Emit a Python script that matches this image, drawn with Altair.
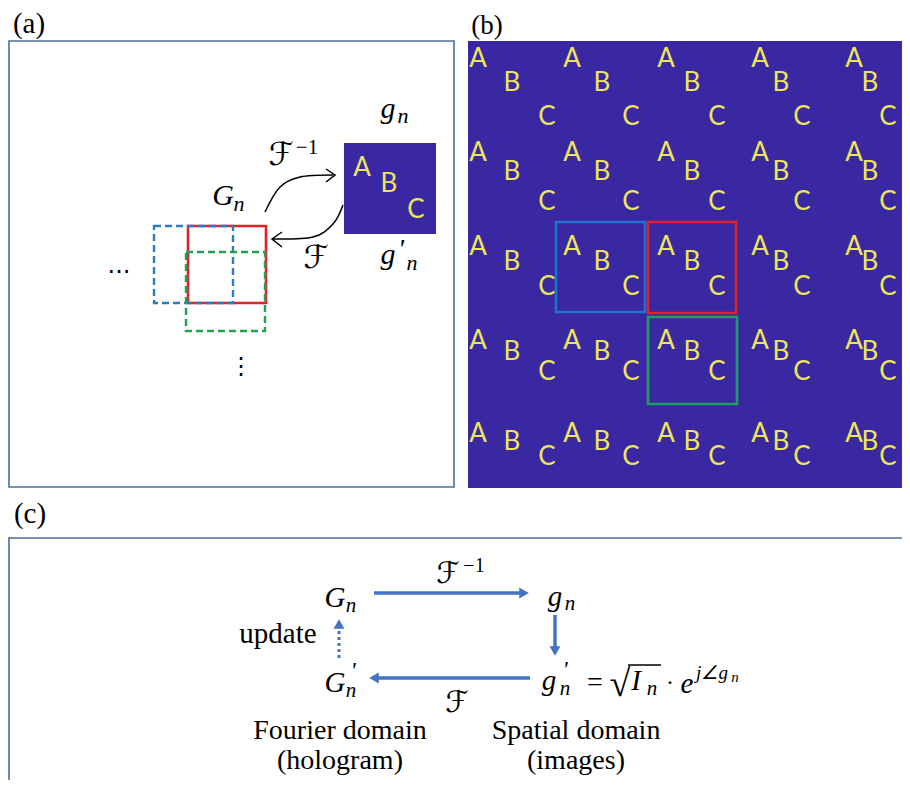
import altair as alt
import pandas as pd

# ---------------- data (diagram positions, in px) ----------------
INDIGO = "#3A27A2"
YELLOW = "#EDE65A"
FRAME = "#4E6E92"
ARROW = "#4472C4"

# panel frames: x0, y0, x1, y1
frame_x0 = [9, 9]
frame_y0 = [41, 538]
frame_x1 = [454, 908]
frame_y1 = [487, 812]

# indigo image areas: panel (a) small image, panel (b) tiled image
img_x0 = [344, 468]
img_y0 = [143, 41]
img_x1 = [436, 912]
img_y1 = [234, 488]

# panel (b) letter grid
grid_A_x = [478, 572, 666, 760, 854]
grid_A_y = [59, 153, 247, 341, 434]
grid_B_dx = [34, 30, 26, 21, 16]
grid_B_dy = [24, 19, 15, 11, 8]
grid_C_dx = [69, 59, 51, 42, 34]
grid_C_dy = [58, 49, 40, 31, 23]

# panel (a) small image letters
small_letters = ["A", "B", "C"]
small_x = [362, 389, 416]
small_y = [168, 184, 210]

# coloured windows: name, x0, y0, x1, y1, colour, dashed
win_name = ["a_blue", "a_green", "a_red", "b_blue", "b_red", "b_green"]
win_x0 = [154, 186, 188, 556, 648, 648]
win_y0 = [226, 252, 226, 222, 222, 317]
win_x1 = [233, 265, 266, 645, 736, 737]
win_y1 = [303, 331, 303, 312, 313, 404]
win_col = ["#2E7BC0", "#22A24F", "#E0242B", "#1F72D0", "#E0202A", "#1E9E63"]
win_dash = [1, 1, 0, 0, 0, 0]

# curved arrows in panel (a)
curve_id = [1, 1, 1, 1, 2, 2, 2, 2]
curve_x = [265, 280, 300, 333, 343, 333, 313, 273]
curve_y = [212, 187, 177, 175, 205, 224, 237, 239]
chev_id = [1, 1, 1, 2, 2, 2]
chev_x = [326, 335, 326, 282, 272, 282]
chev_y = [169, 175, 182, 232, 239, 247]

# straight arrows in panel (c): x0,y0,x1,y1 (line) and head position/shape
arr_x0 = [374, 530, 555]
arr_y0 = [593, 678, 615]
arr_x1 = [521, 378, 555]
arr_y1 = [593, 678, 648]
head_x = [524, 374, 555, 339]
head_y = [593, 678, 651, 624]
head_shape = ["triangle-right", "triangle-left", "triangle-down", "triangle-up"]
dot_x = [339]
dot_y0 = [658]
dot_y1 = [630]

# text items
serif_t = ["(a)", "(b)", "(c)", "update", "Fourier domain", "(hologram)", "Spatial domain", "(images)",
           "=", "·", "√", "−1", "−1"]
serif_x = [29, 487, 30, 278, 340, 340, 576, 576, 595, 670, 620, 307, 474]
serif_y = [24, 26, 514, 634, 731, 761, 731, 761, 683, 683, 685, 148, 566]
serif_s = [29, 27, 29, 29, 28, 28, 28, 28, 28, 24, 38, 21, 20]

math_t = ["g", "n", "G", "n", "g", "n",               # panel (a)
          "G", "n", "G", "n", "g", "n",               # panel (c) left / top
          "g", "n", "I", "n", "e", "j∠g", "n"]        # panel (c) formula
math_x = [388, 403, 223, 239, 388, 412,
          335, 351, 335, 351, 555, 570,
          549, 565, 636, 652, 687, 712, 735]
math_y = [109, 116, 196, 204, 255, 263,
          598, 606, 683, 691, 597, 604,
          681, 689, 681, 689, 684, 673, 677]
math_s = [30, 22, 30, 22, 30, 22,
          29, 21, 29, 21, 29, 21,
          29, 21, 29, 21, 29, 19, 15]

prime_t = ["'", "'", "'"]
prime_x = [401, 353, 565]
prime_y = [250, 671, 670]
prime_s = [28, 24, 24]

script_t = ["ℱ", "ℱ", "ℱ", "ℱ"]
script_x = [281, 316, 448, 457]
script_y = [155, 258, 574, 703]
script_s = [32, 32, 30, 30]

dots_t = ["···", "⋮"]
dots_x = [119, 241]
dots_y = [273, 367]
dots_s = [24, 24]

# ---------------- build ----------------
XS = alt.Scale(domain=[8, 902], nice=False, zero=False)
YS = alt.Scale(domain=[8, 780], reverse=True, nice=False, zero=False)


def X(f="x"):
    return alt.X(f + ":Q", scale=XS, axis=None)


def Y(f="y"):
    return alt.Y(f + ":Q", scale=YS, axis=None)


frames = pd.DataFrame({"x0": frame_x0, "y0": frame_y0, "x1": frame_x1, "y1": frame_y1})
frame_layer = alt.Chart(frames).mark_rect(fillOpacity=0, stroke=FRAME, strokeWidth=1.6).encode(
    x=X("x0"), x2="x1:Q", y=Y("y0"), y2="y1:Q")

imgs = pd.DataFrame({"x0": img_x0, "y0": img_y0, "x1": img_x1, "y1": img_y1})
img_layer = alt.Chart(imgs).mark_rect(color=INDIGO).encode(
    x=X("x0"), x2="x1:Q", y=Y("y0"), y2="y1:Q")

rows = []
for ri, ay in enumerate(grid_A_y):
    for ci, ax in enumerate(grid_A_x):
        rows.append({"x": ax, "y": ay, "t": "A"})
        rows.append({"x": ax + grid_B_dx[ci], "y": ay + grid_B_dy[ri], "t": "B"})
        rows.append({"x": ax + grid_C_dx[ci], "y": ay + grid_C_dy[ri], "t": "C"})
for t, x, y in zip(small_letters, small_x, small_y):
    rows.append({"x": x, "y": y, "t": t})
letters = pd.DataFrame(rows)
letter_layer = alt.Chart(letters).mark_text(font="Lato", fontSize=26, color=YELLOW, align="center",
                                            baseline="middle").encode(x=X(), y=Y(), text="t:N")

wins = pd.DataFrame({"n": win_name, "x0": win_x0, "y0": win_y0, "x1": win_x1, "y1": win_y1,
                     "c": win_col, "d": win_dash})
win_solid = alt.Chart(wins).transform_filter("datum.d == 0").mark_rect(
    fillOpacity=0, strokeWidth=2.6).encode(
    x=X("x0"), x2="x1:Q", y=Y("y0"), y2="y1:Q", stroke=alt.Stroke("c:N", scale=None))
win_dashed = alt.Chart(wins).transform_filter("datum.d == 1").mark_rect(
    fillOpacity=0, strokeWidth=2.4, strokeDash=[7, 4]).encode(
    x=X("x0"), x2="x1:Q", y=Y("y0"), y2="y1:Q", stroke=alt.Stroke("c:N", scale=None))

curves = pd.DataFrame({"id": curve_id, "x": curve_x, "y": curve_y, "o": list(range(len(curve_x)))})
curve_layer = alt.Chart(curves).mark_line(color="black", strokeWidth=1.5, interpolate="cardinal").encode(
    x=X(), y=Y(), detail="id:N", order="o:Q")
chevs = pd.DataFrame({"id": chev_id, "x": chev_x, "y": chev_y, "o": list(range(len(chev_x)))})
chev_layer = alt.Chart(chevs).mark_line(color="black", strokeWidth=1.5).encode(
    x=X(), y=Y(), detail="id:N", order="o:Q")

arrs = pd.DataFrame({"x0": arr_x0, "y0": arr_y0, "x1": arr_x1, "y1": arr_y1})
arr_layer = alt.Chart(arrs).mark_rule(color=ARROW, strokeWidth=3.5).encode(
    x=X("x0"), x2="x1:Q", y=Y("y0"), y2="y1:Q")
dots = pd.DataFrame({"x": dot_x, "y0": dot_y0, "y1": dot_y1})
dot_layer = alt.Chart(dots).mark_rule(color=ARROW, strokeWidth=3, strokeDash=[3, 3]).encode(
    x=X(), y=Y("y0"), y2="y1:Q")
heads = pd.DataFrame({"x": head_x, "y": head_y, "sh": head_shape})
head_layer = alt.Chart(heads).mark_point(filled=True, color=ARROW, opacity=1, size=120).encode(
    x=X(), y=Y(), shape=alt.Shape("sh:N", scale=None))

overline = pd.DataFrame({"x0": [628], "x1": [661], "y": [665]})
over_layer = alt.Chart(overline).mark_rule(color="black", strokeWidth=1.4).encode(
    x=X("x0"), x2="x1:Q", y=Y())


def text_layer(t, x, y, s, font, style="normal"):
    df = pd.DataFrame({"t": t, "x": x, "y": y, "s": s})
    return alt.Chart(df).mark_text(font=font, fontStyle=style, color="black", align="center",
                                   baseline="middle").encode(
        x=X(), y=Y(), text="t:N", size=alt.Size("s:Q", scale=None, legend=None))


serif_layer = text_layer(serif_t, serif_x, serif_y, serif_s, "Liberation Serif")
math_layer = text_layer(math_t, math_x, math_y, math_s, "Liberation Serif", "italic")
prime_layer = text_layer(prime_t, prime_x, prime_y, prime_s, "Liberation Serif", "italic")
script_layer = text_layer(script_t, script_x, script_y, script_s, "DejaVu Sans")
dots_layer = text_layer(dots_t, dots_x, dots_y, dots_s, "DejaVu Sans")

chart = alt.layer(
    img_layer, frame_layer, letter_layer, win_solid, win_dashed, curve_layer, chev_layer,
    arr_layer, dot_layer, head_layer, over_layer, serif_layer, math_layer, prime_layer,
    script_layer, dots_layer,
).properties(width=894, height=772, padding=0, autosize=alt.AutoSizeParams(type="none")
).configure_view(strokeOpacity=0)

chart.save("out.html", embed_options={"renderer": "svg", "actions": False})
